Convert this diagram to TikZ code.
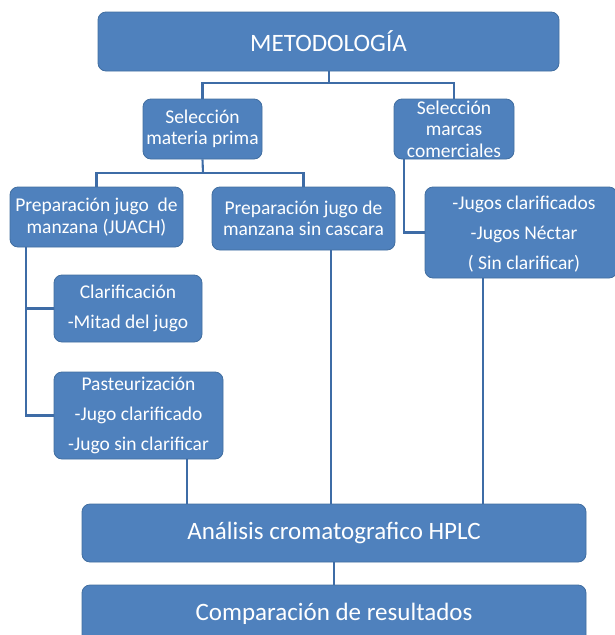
\documentclass[tikz,border=0pt]{standalone}
\usepackage{fontspec}
\setmainfont{Carlito}
\definecolor{boxfill}{RGB}{79,129,189}
\definecolor{boxline}{RGB}{65,110,160}
\definecolor{conn}{RGB}{62,108,166}
\tikzset{
  box/.style={draw=boxline, fill=boxfill, rounded corners=8pt, text=white,
    align=center, inner sep=0pt, line width=0.8pt},
  link/.style={draw=conn, line width=2.1pt},
}
\newcommand{\fbig}{\fontsize{25}{28}\selectfont}
\newcommand{\fmid}{\fontsize{19.5}{21.5}\selectfont}
\newcommand{\fwide}{\fontsize{19.5}{30}\selectfont}
\begin{document}
\begin{tikzpicture}[x=1pt,y=-1pt]
\useasboundingbox (0,0) rectangle (614,635);
% connectors (drawn first, boxes on top)
\coordinate (bus1) at (329,83);
\coordinate (bus2) at (203,173);
\coordinate (mcx) at (404,0);
\coordinate (jx) at (26,0);
\coordinate (px) at (187,0);
\coordinate (sx) at (331,0);
\coordinate (gx) at (483,0);
% boxes
\node[box, minimum width=461pt, minimum height=59pt, font=\fbig] (meto) at (328.5,41.5) {METODOLOGÍA};
\node[box, minimum width=119pt, minimum height=60pt, font=\fmid] (selmp) at (202.5,129) {Selección\\materia prima};
\node[box, minimum width=120pt, minimum height=60pt, font=\fmid] (selmc) at (454,129) {Selección\\marcas\\comerciales};
\node[box, minimum width=173pt, minimum height=60pt, font=\fmid] (juach) at (96.5,217) {Preparación jugo\ \ de\\manzana (JUACH)};
\node[box, minimum width=183pt, minimum height=63pt, font=\fmid] (sincas) at (303.5,218.5) {Preparación jugo de\\manzana sin cascara};
\node[box, minimum width=192pt, minimum height=91pt, font=\fwide, text depth=0pt] (jugos) at (521,232.5) {\hspace*{6pt}-Jugos clarificados\\\hspace*{6pt}-Jugos Néctar\\\hspace*{6pt}( Sin clarificar)};
\node[box, minimum width=148pt, minimum height=67pt, font=\fwide] (clar) at (128,308.5) {Clarificación\\-Mitad del jugo};
\node[box, minimum width=169pt, minimum height=87pt, font=\fwide] (past) at (138.5,415.5) {Pasteurización\\-Jugo clarificado\\-Jugo sin clarificar};
\node[box, minimum width=504pt, minimum height=58pt, font=\fbig] (anal) at (334,533) {Análisis cromatografico HPLC};
\node[box, minimum width=504pt, minimum height=58pt, font=\fbig] (comp) at (334,614) {Comparación de resultados};
% connectors
\draw[link] (meto.south -| bus1) -- (bus1);
\draw[link] (bus1) -| (selmp.north);
\draw[link] (bus1) -| (selmc.north);
\draw[link] (selmp.south) -- (bus2);
\draw[link] (bus2) -| (juach.north);
\draw[link] (bus2) -| (sincas.north);
\draw[link] (selmc.south -| mcx) |- (jugos.west);
\draw[link] (juach.south -| jx) |- (past.west);
\draw[link] (jx |- clar.west) -- (clar.west);
\draw[link] (past.south -| px) -- (anal.north -| px);
\draw[link] (sincas.south -| sx) -- (anal.north -| sx);
\draw[link] (jugos.south -| gx) -- (anal.north -| gx);
\draw[link] (anal.south) -- (comp.north);
\end{tikzpicture}
\end{document}
